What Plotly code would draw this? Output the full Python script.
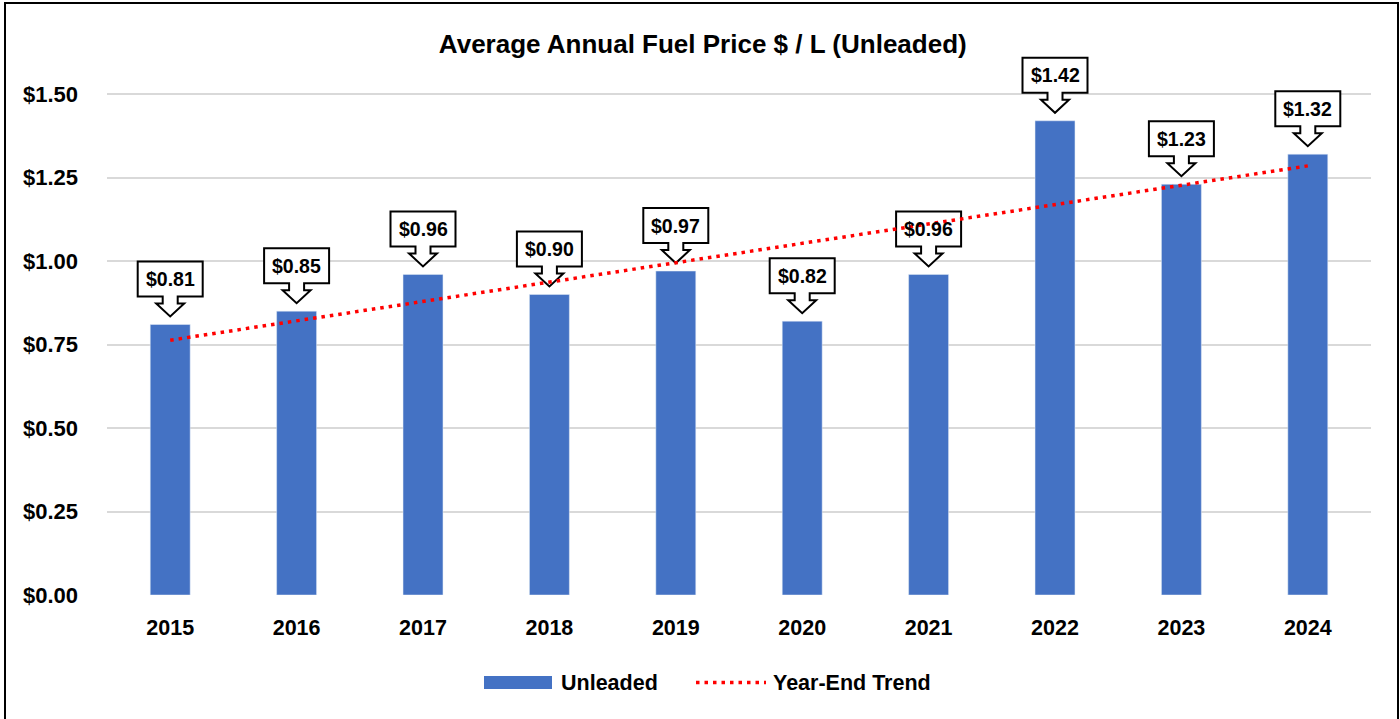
import plotly.graph_objects as go

years = ["2015", "2016", "2017", "2018", "2019", "2020", "2021", "2022", "2023", "2024"]
unleaded = [0.81, 0.85, 0.96, 0.90, 0.97, 0.82, 0.96, 1.42, 1.23, 1.32]
trend_years = ["2015", "2024"]
trend_values = [0.763, 1.285]
y_ticks = [0.0, 0.25, 0.5, 0.75, 1.0, 1.25, 1.5]
y_tick_labels = ["$0.00", "$0.25", "$0.50", "$0.75", "$1.00", "$1.25", "$1.50"]

W, H = 1400, 719
ML, MR, MT, MB = 107, 29, 54, 124
PW, PH = W - ML - MR, H - MT - MB
FONT = "Liberation Sans, Arial, sans-serif"
BLUE = "#4472C4"


def px2x(px):
    return (px - ML) / PW


def py2y(py):
    return (H - MB - py) / PH


fig = go.Figure()
fig.add_trace(go.Bar(x=years, y=unleaded, name="Unleaded", marker_color=BLUE,
                     width=0.316, showlegend=False, hoverinfo="x+y"))
fig.add_trace(go.Scatter(x=trend_years, y=trend_values, mode="lines", name="Year-End Trend",
                         line=dict(color="#FF0000", width=3.5, dash="3.5px,5px"),
                         showlegend=False))

shapes = []
annotations = []
callout_path = ("M-32.5,28 L-7.5,28 L-7.5,21 L-14,21 L0,8 L14,21 L7.5,21 L7.5,28 "
                "L32.5,28 L32.5,63 L-32.5,63 Z")
for i, (yr, v) in enumerate(zip(years, unleaded)):
    shapes.append(dict(type="path", xref="x", yref="y", xsizemode="pixel", ysizemode="pixel",
                       xanchor=i, yanchor=v, path=callout_path,
                       line=dict(color="black", width=2), fillcolor="white", layer="between"))
    annotations.append(dict(x=i, y=v, xref="x", yref="y", text=f"${v:.2f}", showarrow=False,
                            yshift=45.5, xanchor="center", yanchor="middle",
                            font=dict(family=FONT, size=19.5, color="black", weight=700)))

# outer border
shapes.append(dict(type="rect", xref="paper", yref="paper", x0=px2x(5), x1=px2x(1398),
                   y0=py2y(730), y1=py2y(3), line=dict(color="black", width=2),
                   fillcolor="rgba(0,0,0,0)", layer="above"))

# custom legend
shapes.append(dict(type="rect", xref="paper", yref="paper", x0=px2x(484), x1=px2x(552),
                   y0=py2y(689), y1=py2y(676), line=dict(width=0), fillcolor=BLUE))
shapes.append(dict(type="line", xref="paper", yref="paper", x0=px2x(696), x1=px2x(766),
                   y0=py2y(682.5), y1=py2y(682.5),
                   line=dict(color="#FF0000", width=3.5, dash="3.5px,5px")))
annotations.append(dict(x=px2x(559), y=py2y(682.5), xref="paper", yref="paper", text="Unleaded",
                        showarrow=False, xanchor="left", yanchor="middle",
                        font=dict(family=FONT, size=21.5, color="black", weight=700)))
annotations.append(dict(x=px2x(771), y=py2y(682.5), xref="paper", yref="paper",
                        text="Year-End Trend", showarrow=False, xanchor="left", yanchor="middle",
                        font=dict(family=FONT, size=21.5, color="black", weight=700)))

fig.update_layout(
    width=W, height=H,
    margin=dict(l=ML, r=MR, t=MT, b=MB),
    paper_bgcolor="white", plot_bgcolor="white",
    title=dict(text="Average Annual Fuel Price $ / L (Unleaded)", x=0.502, xref="container",
               y=1 - 44 / H, yref="container", xanchor="center", yanchor="middle",
               font=dict(family=FONT, size=26, color="black", weight=700)),
    xaxis=dict(type="category", showgrid=False, showline=False, zeroline=False,
               tickfont=dict(family=FONT, size=21.5, color="black", weight=700),
               ticks="", ticklabelstandoff=17, range=[-0.5, 9.5]),
    yaxis=dict(range=[0, 1.62], tickvals=y_ticks, ticktext=y_tick_labels,
               showgrid=True, gridcolor="#D9D9D9", gridwidth=1.5, zeroline=False, showline=False,
               tickfont=dict(family=FONT, size=22, color="black", weight=700),
               ticks="", ticklabelstandoff=28),
    shapes=shapes, annotations=annotations,
    bargap=0.684, showlegend=False,
)

fig.write_html("out.html", config={"displayModeBar": False},
               post_script="document.body.style.margin='0';")
